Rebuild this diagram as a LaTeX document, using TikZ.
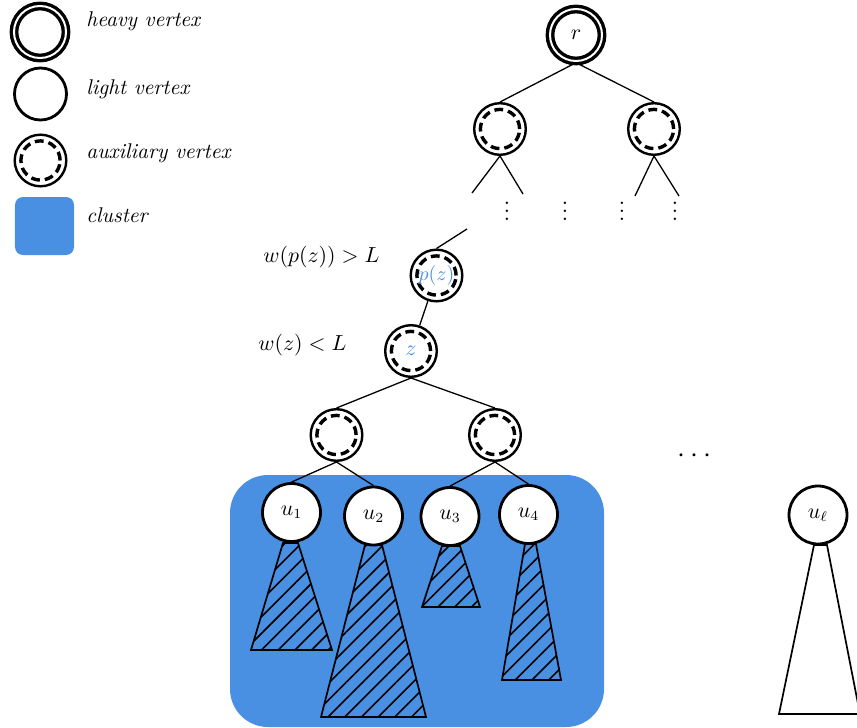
\documentclass[tikz,border=0pt]{standalone}
\usepackage{amsmath,amssymb}
\usepackage{tikz}
\usetikzlibrary{shapes,arrows,patterns.meta,positioning,calc}

\definecolor{clusterblue}{rgb}{0.29,0.565,0.886}
\newcommand{\labfont}{\fontsize{10.7}{13}\selectfont}

\tikzset{
  vtx/.style={circle,draw,fill=white,inner sep=0pt,minimum size=29bp,line width=1.4bp},
  heavy/.style={vtx,double,double distance=1bp,line width=1.7bp,minimum size=26bp},
  light/.style={vtx},
  aux/.style={vtx,line width=1.2bp,minimum size=25.8bp,
    path picture={\draw[line width=1.7bp,dash pattern=on 4.4bp off 2.5bp]
      (path picture bounding box.center) circle (9.8bp);}},
  cluster/.style={fill=clusterblue},
  subtree/.style={draw,line width=0.85bp},
  hatched/.style={subtree,pattern={Lines[angle=45,distance=5.9bp,line width=0.8bp]}},
  edge/.style={line width=0.65bp},
  legend/.style={anchor=west,inner sep=0pt,font=\labfont\itshape},
}

\begin{document}
\begin{tikzpicture}[x=0.5bp,y=-0.5bp,every node/.append style={font=\labfont}]
\useasboundingbox (0,0) rectangle (857,728);
% legend
\node[heavy] (lgheavy) at (40,32) {};
\node[light,minimum size=26bp] (lglight) at (40.5,94) {};
\node[aux] (lgaux) at (40.5,160.5) {};
\node[cluster,rounded corners=4bp,minimum width=29.5bp,minimum height=29bp] (lgcluster) at (44.5,226) {};
\node[legend] (txheavy) at (86,21.5) {heavy vertex};
\node[legend] (txlight) at (86,89.5) {light vertex};
\node[legend] (txaux) at (86,153.5) {auxiliary vertex};
\node[legend] (txcluster) at (86,215.5) {cluster};
% cluster and subtrees
\fill[cluster,rounded corners=19bp] (230,475) rectangle (604,727);
\draw[hatched] (283,543) -- (298,543) -- (332,650) -- (251,650) -- cycle;
\draw[hatched] (365,545) -- (382,545) -- (426,717) -- (321,717) -- cycle;
\draw[hatched] (442,546) -- (460,546) -- (480,607) -- (422,607) -- cycle;
\draw[hatched] (525,544) -- (536,544) -- (561,680) -- (502,680) -- cycle;
\draw[subtree] (814,545) -- (827,545) -- (860,714) -- (779,714) -- cycle;
% tree
\node[heavy] (root) at (576,35) {$r$};
\node[aux] (a) at (500,129) {};
\node[aux] (b) at (654,129) {};
\node[aux,text=clusterblue,font=\fontsize{9.6}{11}\selectfont] (pz) at (436.5,275.5) {$p(z)$};
\node[aux,text=clusterblue] (z) at (411,351) {$z$};
\node[aux] (zl) at (336.5,435) {};
\node[aux] (zr) at (495,435) {};
\node[light] (u1) at (291.5,512.5) {$u_1$};
\node[light] (u2) at (373.5,516) {$u_2$};
\node[light] (u3) at (450,516.5) {$u_3$};
\node[light] (u4) at (528.5,514.5) {$u_4$};
\node[light] (ul) at (818,515) {$u_\ell$};
\coordinate (a1) at (472,193);
\coordinate (a2) at (523,194);
\coordinate (b1) at (635,196);
\coordinate (b2) at (679,196);
\coordinate (pzup) at (467,229);
\draw[edge] (root.south) -- (a.north) (root.south) -- (b.north);
\draw[edge] (a.south) -- (a1) (a.south) -- (a2) (b.south) -- (b1) (b.south) -- (b2);
\draw[edge] (pzup) -- (pz.north);
\draw[edge] (pz) -- (z);
\draw[edge] (z.south) -- (zl.north) (z.south) -- (zr.north);
\draw[edge] (zl.south) -- (u1.north) (zl.south) -- (u2.north);
\draw[edge] (zr.south) -- (u3.north) (zr.south) -- (u4.north);
% dots and weights
\foreach \x [count=\i] in {507,565,622,675}
  \node[font=\fontsize{12.5}{15}\selectfont] (vd\i) at (\x,205) {$\vdots$};
\node[font=\fontsize{15}{18}\selectfont] (hdots) at (697,456) {$\cdots$};
\node (wpz) at (321.5,257) {$w(p(z)) > L$};
\node (wz) at (302.5,345) {$w(z) < L$};
\end{tikzpicture}
\end{document}
